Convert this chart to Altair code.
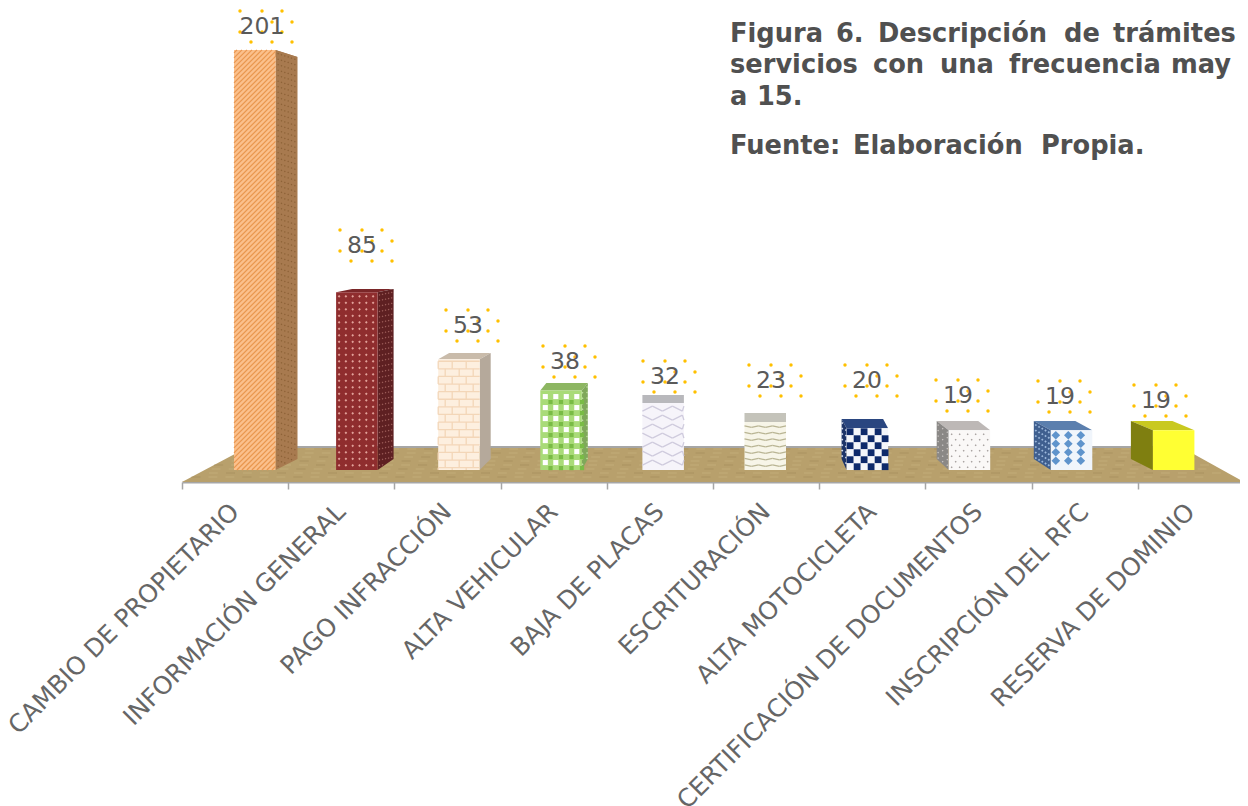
import altair as alt
import pandas as pd
import numpy as np

categories = ["CAMBIO DE PROPIETARIO", "INFORMACIÓN GENERAL", "PAGO INFRACCIÓN", "ALTA VEHICULAR",
              "BAJA DE PLACAS", "ESCRITURACIÓN", "ALTA MOTOCICLETA", "CERTIFICACIÓN DE DOCUMENTOS",
              "INSCRIPCIÓN DEL RFC", "RESERVA DE DOMINIO"]
values = [201, 85, 53, 38, 32, 23, 20, 19, 19, 19]
front_colors = ["#FBC08C", "#8F2D2E", "#FDEFDF", "#A9DB78", "#F6F4FA", "#F7F5E8", "#F4F6FA", "#FAF8F7", "#F0F5FB", "#FFFF33"]
side_colors = ["#A87A4F", "#5E2022", "#B5A99B", "#7FA85A", "#C9C7CE", "#BDBBAE", "#1D3468", "#8A8886", "#3F5F8F", "#7F7F10"]
top_colors = ["#A87A4F", "#7A2628", "#C9BBAA", "#8DB662", "#B8B8BC", "#C4C3BA", "#2A4680", "#BDB8B6", "#5B7FAE", "#C9C920"]
depths = [22, 16, 11, 6, 0, 0, -5, -12, -17, -22]
label_x = [262, 362, 468, 565, 665, 771, 867, 958, 1060, 1156]
label_y = [27, 246, 326, 362, 377, 381, 381, 396, 397, 401]
title_words = [("Figura", 730, 33.5), ("6.", 836, 33.5), ("Descripción", 878, 33.5), ("de", 1064, 33.5), ("trámites", 1113, 33.5),
               ("servicios", 730, 64.5), ("con", 873, 64.5), ("una", 940, 64.5), ("frecuencia", 1009, 64.5), ("may", 1171, 64.5),
               ("a", 730, 96.5), ("15.", 757, 96.5),
               ("Fuente:", 730, 145.5), ("Elaboración", 853, 145.5), ("Propia.", 1041, 145.5)]

K = 2.09
BASE = 470.0
X0, X1 = 182, 1244
def Y(py):
    return (BASE - py) / K

xs = alt.Scale(domain=[X0, X1], range=[0, 1062], nice=False, zero=False)
ys = alt.Scale(domain=[Y(482), Y(8)], nice=False, zero=False)
X = lambda f: alt.X(f, type="quantitative", scale=xs, axis=None)
YY = lambda f: alt.Y(f, type="quantitative", scale=ys, axis=None)

lefts = [234 + 102.1 * i for i in range(len(values))]
W = 41.5

# floor
floor = pd.DataFrame({"y": [Y(482), Y(447)], "a": [182, 248], "b": [1244, 1181]})
floor_l = alt.Chart(floor).mark_area(orient="horizontal", color="#B8A06C").encode(
    y=YY("y"), x=X("a"), x2="b")
wood_rows = []
for py in range(449, 481, 4):
    f = (482 - py) / 35
    for k in range(60):
        xa = 182 + 66 * f + k * 17 + (py % 3) * 5
        if xa + 9 < 1244 - 63 * f:
            wood_rows.append({"x": xa, "x2": xa + 9, "y": Y(py), "c": "a" if (k * 7 + py) % 3 == 0 else "b"})
wood = alt.Chart(pd.DataFrame(wood_rows)).mark_rule(strokeWidth=2, opacity=0.25).encode(
    x=X("x"), x2="x2", y=YY("y"),
    color=alt.Color("c:N", scale=alt.Scale(domain=["a", "b"], range=["#9C8553", "#CDB684"]), legend=None))
back_edge = alt.Chart(pd.DataFrame({"a": [248], "b": [1181], "y": [Y(447)]})).mark_rule(color="#A6A6A6", strokeWidth=2).encode(
    x=X("a"), x2="b", y=YY("y"))

# bars
side_rows, top_rows, front_rows = [], [], []
geom = []
for i, (l, v, d) in enumerate(zip(lefts, values, depths)):
    r = l + W
    h = v * K
    top_back = 459 - 0.957 * h
    top_front = BASE - h
    edge = r if d >= 0 else l
    geom.append((edge, d, top_front, top_back))
    side_rows += [{"i": i, "x": edge, "y": Y(top_front), "y2": Y(BASE)},
                  {"i": i, "x": edge + d, "y": Y(top_back), "y2": Y(459)}]
    top_rows += [{"i": i, "y": Y(top_front), "a": l, "b": r},
                 {"i": i, "y": Y(top_back), "a": l + d, "b": r + d}]
    front_rows.append({"i": i, "a": l, "b": r, "v": v, "z": 0})

cs = lambda colors: alt.Color("i:O", scale=alt.Scale(domain=list(range(10)), range=colors), legend=None)
top = alt.Chart(pd.DataFrame(top_rows)).mark_area(orient="horizontal").encode(
    y=YY("y"), x=X("a"), x2="b", color=cs(top_colors), detail="i:O")
side = alt.Chart(pd.DataFrame(side_rows)).mark_area().encode(
    x=X("x"), y=YY("y"), y2="y2", color=cs(side_colors), detail="i:O")
front = alt.Chart(pd.DataFrame(front_rows)).mark_bar().encode(
    x=X("a"), x2="b", y=YY("v"), y2="z", color=cs(front_colors))

# surface textures
seg, dots, squares = [], [], []
def add_seg(x, y, x2, y2, c):
    seg.append({"x": x, "y": Y(y), "x2": x2, "y2": Y(y2), "c": c})
def add_dot(x, y, c, s):
    dots.append({"x": x, "y": Y(y), "c": c, "s": s})
def top_of(i):
    return BASE - values[i] * K

# side-face speckle: follows the perspective of each side
for i, c, s in [(0, "#8B6136", 3), (1, "#A0605C", 3), (3, "#BFE0A0", 4), (6, "#DDE4F2", 5), (7, "#CFCBC9", 3), (8, "#9DB9DC", 6)]:
    edge, d, tf, tb = geom[i]
    for u in np.linspace(0.12, 0.88, max(2, int(abs(d) / 3.2))):
        yt = tf + (tb - tf) * u
        yb = BASE + (459 - BASE) * u
        for py in np.arange(yt + 3, yb - 1, 5.5):
            add_dot(edge + d * u, py, c, s)

# 0 diagonal hatch
t = top_of(0); l = lefts[0]; r = l + W
for s in np.arange(t + 3, BASE + W, 5.0):
    y1 = min(s, BASE); x1 = l + (s - y1)
    x2 = min(l + (s - t), r); y2 = s - (x2 - l)
    if y2 <= BASE and x1 <= r:
        add_seg(x1, y1, x2, y2, "#E9974F")
# 1 light dots
t = top_of(1); l = lefts[1]
for py in np.arange(t + 4, BASE - 1, 6.5):
    for px in np.arange(l + 3, l + W - 1, 6.8):
        add_dot(px, py, "#E3A39B", 7)
# 2 bricks
t = top_of(2); l = lefts[2]; r = l + W
for n, py in enumerate(np.arange(t + 2, BASE, 7.6)):
    add_seg(l, py, r, py, "#F3D6B8")
    off = 0 if n % 2 == 0 else 7
    for px in np.arange(l + off, r, 14):
        add_seg(px, py, px, min(py + 7.6, BASE), "#F3D6B8")
# 3 green check with white cells
t = top_of(3); l = lefts[3]
for n, py in enumerate(np.arange(t + 6, BASE - 2, 11)):
    for px in np.arange(l + 5, l + W - 2, 10.5):
        squares.append({"x": px, "y": Y(py), "c": "#FFFFFF", "s": 26})
        squares.append({"x": px + 5.2, "y": Y(py + 5.5), "c": "#79BC45", "s": 18})
# 4 woven diagonals
t = top_of(4); l = lefts[4]; r = l + W
for n, py in enumerate(np.arange(t + 3, BASE - 3, 9)):
    for m, px in enumerate(np.arange(l, r - 1, 10)):
        px2 = min(px + 10, r)
        if (m + n) % 2:
            add_seg(px, py, px2, py + 5, "#CFCBDD")
        else:
            add_seg(px, py + 5, px2, py, "#CFCBDD")
# 5 waves
t = top_of(5); l = lefts[5]; r = l + W
for py in np.arange(t + 4, BASE - 1, 6.5):
    for m, px in enumerate(np.arange(l, r - 1, 7)):
        px2 = min(px + 7, r)
        add_seg(px, py + (m % 2) * 1.5, px2, py + ((m + 1) % 2) * 1.5, "#B9B594")
# 6 navy checker
t = top_of(6); l = lefts[6]
for n, py in enumerate(np.arange(t + 3.5, BASE - 1, 7)):
    for m, px in enumerate(np.arange(l + 3.5, l + W - 1, 7)):
        if (n + m) % 2 == 0:
            squares.append({"x": px, "y": Y(py), "c": "#0E2A6B", "s": 46})
# 7 gray speckles
t = top_of(7); l = lefts[7]
for n, py in enumerate(np.arange(t + 4, BASE - 1, 5.5)):
    for m, px in enumerate(np.arange(l + 3 + (n % 2) * 4, l + W - 1, 8)):
        add_dot(px, py, "#A39C9A", 4)
# 8 blue diamonds
t = top_of(8); l = lefts[8]
for n, py in enumerate(np.arange(t + 5, BASE - 1, 8.5)):
    for m, px in enumerate(np.arange(l + 5, l + W - 1, 12.5)):
        add_dot(px, py, "#5F94CC", 75)

seg_layer = alt.Chart(pd.DataFrame(seg)).mark_rule(strokeWidth=1.3).encode(
    x=X("x"), x2="x2", y=YY("y"), y2="y2",
    color=alt.Color("c:N", scale=None))
dot_layer = alt.Chart(pd.DataFrame(dots)).mark_point(filled=True, opacity=1, shape="diamond").encode(
    x=X("x"), y=YY("y"), color=alt.Color("c:N", scale=None), size=alt.Size("s:Q", scale=None))
sq_layer = alt.Chart(pd.DataFrame(squares)).mark_square(opacity=1).encode(
    x=X("x"), y=YY("y"), color=alt.Color("c:N", scale=None), size=alt.Size("s:Q", scale=None))

# data labels with gold dots
gold = []
for lx, ly in zip(label_x, label_y):
    for dx, dy in [(-22, -16), (0, -16), (20, -16), (10, -5), (30, -5), (-22, 5), (0, 5), (20, 5), (-11, 15), (10, 15), (30, 15)]:
        gold.append({"x": lx + dx, "y": Y(ly + dy)})
gold_layer = alt.Chart(pd.DataFrame(gold)).mark_circle(color="#FFC000", size=12, opacity=1).encode(x=X("x"), y=YY("y"))
lab = pd.DataFrame({"x": label_x, "y": [Y(p) for p in label_y], "t": [str(v) for v in values]})
lab_layer = alt.Chart(lab).mark_text(font="DejaVu Sans", fontSize=23.5, color="#5A5A5A", align="center", baseline="middle").encode(
    x=X("x"), y=YY("y"), text="t:N")

# heading
tw = pd.DataFrame({"t": [w[0] for w in title_words], "x": [w[1] for w in title_words], "y": [Y(w[2]) for w in title_words]})
title_layer = alt.Chart(tw).mark_text(font="DejaVu Sans", fontWeight="bold", fontSize=25.7, color="#505050", align="left", baseline="middle").encode(
    x=X("x"), y=YY("y"), text="t:N")

# category axis
axis_df = pd.DataFrame({"cat": categories, "y": [Y(482)] * 10})
axis_layer = alt.Chart(axis_df).mark_point(opacity=0).encode(
    x=alt.X("cat:N", sort=categories, title=None, scale=alt.Scale(range=[0, 1062], paddingInner=0, paddingOuter=0),
            axis=alt.Axis(labelAngle=-45, labelAlign="right", labelBaseline="middle", labelFont="DejaVu Sans",
                          labelFontSize=24.8, labelColor="#666666", labelPadding=19, labelOverlap=False, labelLimit=600,
                          tickColor="#A6A6A6", tickSize=7, tickWidth=1.5, tickBand="extent", domainColor="#A6A6A6", domainWidth=2,
                          grid=False, labelBound=False, labelFlush=False)),
    y=YY("y"))

chart = alt.layer(floor_l, wood, back_edge, top, side, front, seg_layer, dot_layer, sq_layer,
                  gold_layer, lab_layer, title_layer, axis_layer).resolve_scale(
    x="independent", color="independent", size="independent"
).properties(
    width=1058, height=474,
    padding={"left": 174, "top": 0, "right": 0, "bottom": 324},
    autosize=alt.AutoSizeParams(type="none", contains="content")
).configure_view(stroke=None)

chart.save("out.html", embed_options={"renderer": "svg", "actions": False})
